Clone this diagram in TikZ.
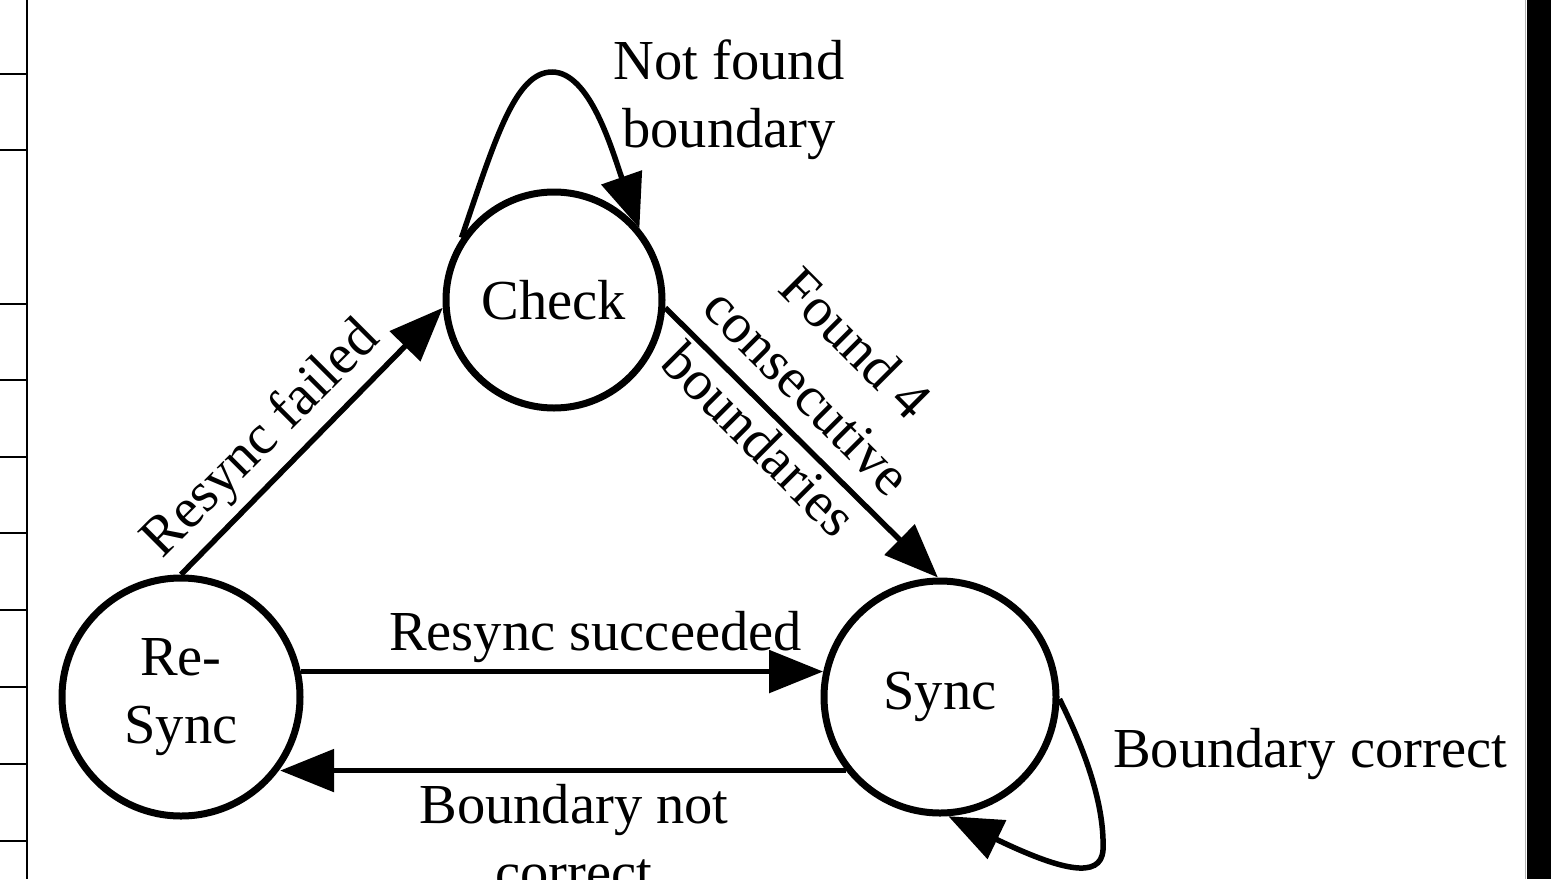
\documentclass[tikz,border=0pt]{standalone}
\usepackage{fontspec}
\setmainfont{Liberation Serif}
\usetikzlibrary{arrows.meta}
\tikzset{
  state/.style={circle, draw, line width=7pt, inner sep=0pt, align=center,
    font=\fontsize{56.5}{68}\selectfont},
  edge/.style={line width=5.5pt, -{Triangle[length=54pt,width=42pt]}},
  lbl/.style={inner sep=0pt, align=center, font=\fontsize{56.5}{68}\selectfont},
  ruler/.style={line width=2.5pt}
}
\begin{document}
\begin{tikzpicture}[x=1pt,y=-1pt]
\useasboundingbox (0,0) rectangle (1551,879);
\fill[white] (0,0) rectangle (1551,879);
% left ruler
\draw[ruler] (27,0) -- (27,879);
\foreach \yy in {74,150,304,380,457,533,610,687,764,841}
  \draw[ruler] (0,\yy) -- (27,\yy);
% right bar
\fill[black] (1527,0) rectangle (1551,879);
\draw[gray!60, line width=1pt] (1525.5,0) -- (1525.5,879);

% states
\node[state, minimum size=216pt] (check) at (554,300) {Check};
\node[state, minimum size=238pt] (resync) at (181,697) {Re-\\Sync};
\node[state, minimum size=232pt] (sync) at (940,697) {Sync};

% transitions
\draw[edge] (resync.90) -- (check.184);
\draw[edge] (check.-4) -- (sync.91);
\draw[edge] (resync.12) -- (resync.12 -| sync.168);
\draw[edge] (sync.218) -- (sync.218 -| resync.-36);
\draw[edge] (check.146) .. controls (495,140) and (515,72) .. (552,72)
  .. controls (590,72) and (612,150) .. (check.40);
\draw[edge] (sync.-1) .. controls (1080,740) and (1105,800) .. (1103,850)
  .. controls (1101,880) and (1060,870) .. (sync.-86);

% labels
\node[lbl, rotate=45] (lfail) at (262,440) {Resync failed};
\node[lbl, rotate=-45] (lfound) at (808,391) {Found 4\\consecutive\\boundaries};
\node[lbl, anchor=base] (lsucc) at (595.5,650) {Resync succeeded};
\node[lbl] (lnot) at (574,838) {Boundary not\\correct};
\node[lbl] (lnotfound) at (729,100) {Not found\\boundary};
\node[lbl, anchor=base] (lcorr) at (1310,767) {Boundary correct};
\end{tikzpicture}
\end{document}
